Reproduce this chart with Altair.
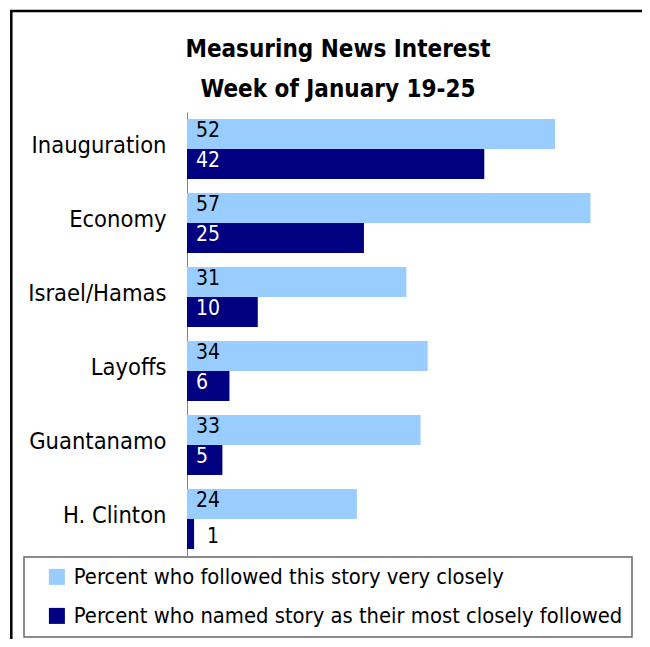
import altair as alt
import pandas as pd

# ---- data ----
categories = ["Inauguration", "Economy", "Israel/Hamas", "Layoffs", "Guantanamo", "H. Clinton"]
followed_very_closely = [52, 57, 31, 34, 33, 24]
most_closely_followed = [42, 25, 10, 6, 5, 1]
series_names = [
    "Percent who followed this story very closely",
    "Percent who named story as their most closely followed",
]
series_colors = ["#99CCFF", "#000080"]
title_lines = ["Measuring News Interest", "Week of January 19-25"]

rows = []
for i, c in enumerate(categories):
    rows.append({"story": c, "series": series_names[0], "value": followed_very_closely[i]})
    rows.append({"story": c, "series": series_names[1], "value": most_closely_followed[i]})
df = pd.DataFrame(rows)

FONT = "DejaVu Sans Condensed, Liberation Sans Narrow, DejaVu Sans"

y_enc = alt.Y(
    "story:N",
    sort=categories,
    title=None,
    scale=alt.Scale(paddingInner=14 / 74, paddingOuter=7 / 74),
    axis=alt.Axis(
        ticks=False,
        labelFont=FONT,
        labelFontSize=23.5,
        labelColor="#000000",
        labelPadding=21,
        labelBaseline="alphabetic",
        labelOffset=4,
        labelLimit=300,
        domainColor="#808080",
        domainWidth=1,
        grid=False,
    ),
)
yoff = alt.YOffset("series:N", sort=series_names, scale=alt.Scale(paddingInner=0, paddingOuter=0))
x_scale = alt.Scale(domain=[0, 64], nice=False)

bars = (
    alt.Chart(df)
    .mark_bar()
    .encode(
        x=alt.X("value:Q", scale=x_scale, axis=None),
        y=y_enc,
        yOffset=yoff,
        color=alt.Color(
            "series:N",
            scale=alt.Scale(domain=series_names, range=series_colors),
            legend=alt.Legend(
                orient="none",
                legendX=-163,
                legendY=445,
                direction="vertical",
                title=None,
            ),
        ),
    )
)

inside_labels = (
    alt.Chart(df)
    .transform_filter("datum.value >= 3")
    .mark_text(align="left", baseline="alphabetic", dx=9, dy=2.5, fontSize=21, font=FONT)
    .encode(
        x=alt.datum(0),
        y=alt.Y("story:N", sort=categories),
        yOffset=yoff,
        text="value:Q",
        color=alt.condition(
            alt.datum.series == series_names[1], alt.value("#FFFFFF"), alt.value("#000000")
        ),
    )
)

outside_labels = (
    alt.Chart(df)
    .transform_filter("datum.value < 3")
    .mark_text(align="left", baseline="alphabetic", dx=13, dy=9, fontSize=21, font=FONT, color="#000000")
    .encode(
        x=alt.X("value:Q"),
        y=alt.Y("story:N", sort=categories),
        yOffset=yoff,
        text="value:Q",
    )
)

frame = (
    alt.Chart(pd.DataFrame({"frame": [1]}))
    .mark_rect(fillOpacity=0, stroke="#000000", strokeWidth=2.5)
    .encode(
        x=alt.value(-175.7),
        x2=alt.value(900),
        y=alt.value(-101),
        y2=alt.value(900),
    )
)

chart = (
    alt.layer(frame, bars, inside_labels, outside_labels)
    .properties(
        width=453,
        height=444,
        padding={"left": 179, "top": 104, "right": 2, "bottom": 83},
        autosize=alt.AutoSizeParams(type="none"),
        title=alt.TitleParams(
            text=title_lines,
            anchor="middle",
            dx=-75.5,
            offset=-111.5,
            font=FONT,
            fontSize=24,
            fontWeight="bold",
            lineHeight=40,
            baseline="alphabetic",
            color="#000000",
        ),
    )
    .configure_view(strokeWidth=0)
    .configure_legend(
        strokeColor="#666666",
        strokeWidth=1.5,
        padding=9,
        symbolOffset=13,
        symbolType="square",
        symbolSize=256,
        symbolStrokeWidth=0,
        labelFont=FONT,
        labelFontSize=21.8,
        labelColor="#000000",
        labelOffset=6,
        labelLimit=800,
        rowPadding=16,
    )
)

chart.save("out.html", embed_options={"renderer": "svg", "actions": False})
